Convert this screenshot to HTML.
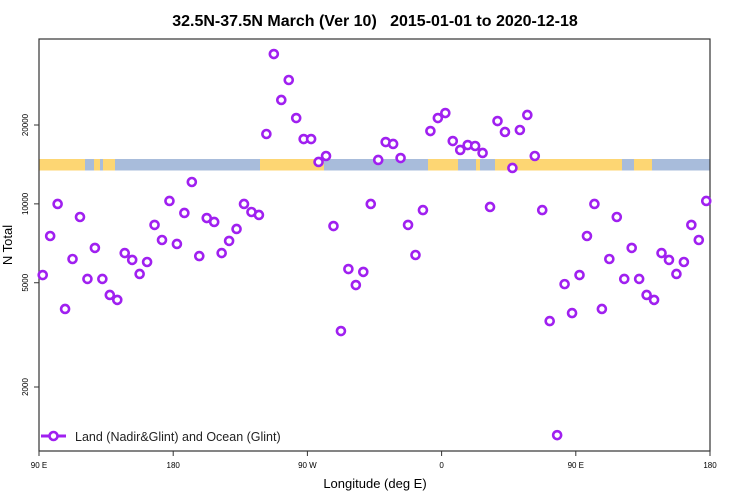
<!DOCTYPE html>
<html><head><meta charset="utf-8"><style>
body{margin:0;background:#fff;}
svg{display:block;font-family:"Liberation Sans",sans-serif;}
</style></head><body>
<svg width="750" height="500">
<text x="375" y="26" text-anchor="middle" font-size="16" font-weight="bold" style="white-space:pre">32.5N-37.5N March (Ver 10)   2015-01-01 to 2020-12-18</text>
<g id="strip"></g>
<g id="axes"></g>
<g id="pts"></g>
<text x="12" y="245" transform="rotate(-90 12 245)" text-anchor="middle" font-size="13">N Total</text>
<text x="375" y="488" text-anchor="middle" font-size="13">Longitude (deg E)</text>
<g>
<line x1="41" y1="436" x2="66" y2="436" stroke="#a020f0" stroke-width="3"/>
<circle cx="53.5" cy="436" r="4" fill="#fff" stroke="#a020f0" stroke-width="2.6"/>
<text x="75" y="441" font-size="12.5" fill="#222">Land (Nadir&amp;Glint) and Ocean (Glint)</text>
</g>
</svg>
<script>
const NS="http://www.w3.org/2000/svg";
// data: longitude offset (deg from 90E) and N Total values
const lonStart=2.5, lonStep=5;
const values=[5350,7540,9990,3970,6160,8910,5170,6790,5170,4490,4300,6490,6110,5400,6000,8310,7280,10260,7030,9230,12120,6320,8830,8530,6490,7220,8020,9990,9310,9070,18480,37320,24920,29700,21260,17680,17680,14450,15230,8230,3270,5640,4900,5500,9990,14710,17220,16930,14960,8310,6380,9470,18970,21260,22220,17370,16060,16770,16630,15640,9730,20710,18810,13710,19140,21840,15230,9470,3570,1310,4940,3830,5350,7540,9990,3970,6160,8910,5170,6790,5170,4490,4300,6490,6110,5400,6000,8310,7280,10260];
const xTickPos=[0,90,180,270,360,450];
const xTickLabels=["90 E","180","90 W","0","90 E","180"];
const yTicks=[2000,5000,10000,20000];
const yTickLabels=["2000","5000","10000","20000"];
const X0=39,X1=710,Y0=39,Y1=451;
function xs(d){return X0+d*(X1-X0)/450;}
function ys(v){return 387-(Math.log10(v)-Math.log10(2000))*262;}
const axes=document.getElementById('axes');
function mk(t,a,p){const e=document.createElementNS(NS,t);for(const k in a)e.setAttribute(k,a[k]);(p||axes).appendChild(e);return e;}
const strip=document.getElementById('strip');
const segs=[[39,85,'#fdd673'],[85,260,'#a8bcdb'],[94,100,'#fdd673'],[103,115,'#fdd673'],[260,324,'#fdd673'],[324,428,'#a8bcdb'],[428,458,'#fdd673'],[458,495,'#a8bcdb'],[476,480,'#fdd673'],[495,622,'#fdd673'],[622,710,'#a8bcdb'],[634,652,'#fdd673']];
segs.forEach(s=>{mk('rect',{x:s[0],y:159,width:s[1]-s[0],height:11.5,fill:s[2]},strip);});
const box=mk('rect',{x:X0,y:Y0,width:X1-X0,height:Y1-Y0,fill:'none',stroke:'#333','stroke-width':1.2});


xTickPos.forEach((d,i)=>{
 const x=xs(d);
 mk('line',{x1:x,y1:Y1,x2:x,y2:Y1+5,stroke:'#333'});
 const t=mk('text',{x:x,y:Y1+17,'text-anchor':'middle','font-size':8});
 t.textContent=xTickLabels[i];
 
 
});
yTicks.forEach((v,i)=>{
 const y=ys(v);
 mk('line',{x1:X0-5,y1:y,x2:X0,y2:y,stroke:'#333'});
 const t=mk('text',{x:28,y:y,'text-anchor':'middle','font-size':8,transform:`rotate(-90 28 ${y})`});
 t.textContent=yTickLabels[i];
 
 
});
const pts=document.getElementById('pts');
values.forEach((v,i)=>{
 const c=mk('circle',{cx:xs(lonStart+lonStep*i),cy:ys(v),r:4,fill:'#fff',stroke:'#a020f0','stroke-width':2.6},pts);
 
 
});
</script>
</body></html>
